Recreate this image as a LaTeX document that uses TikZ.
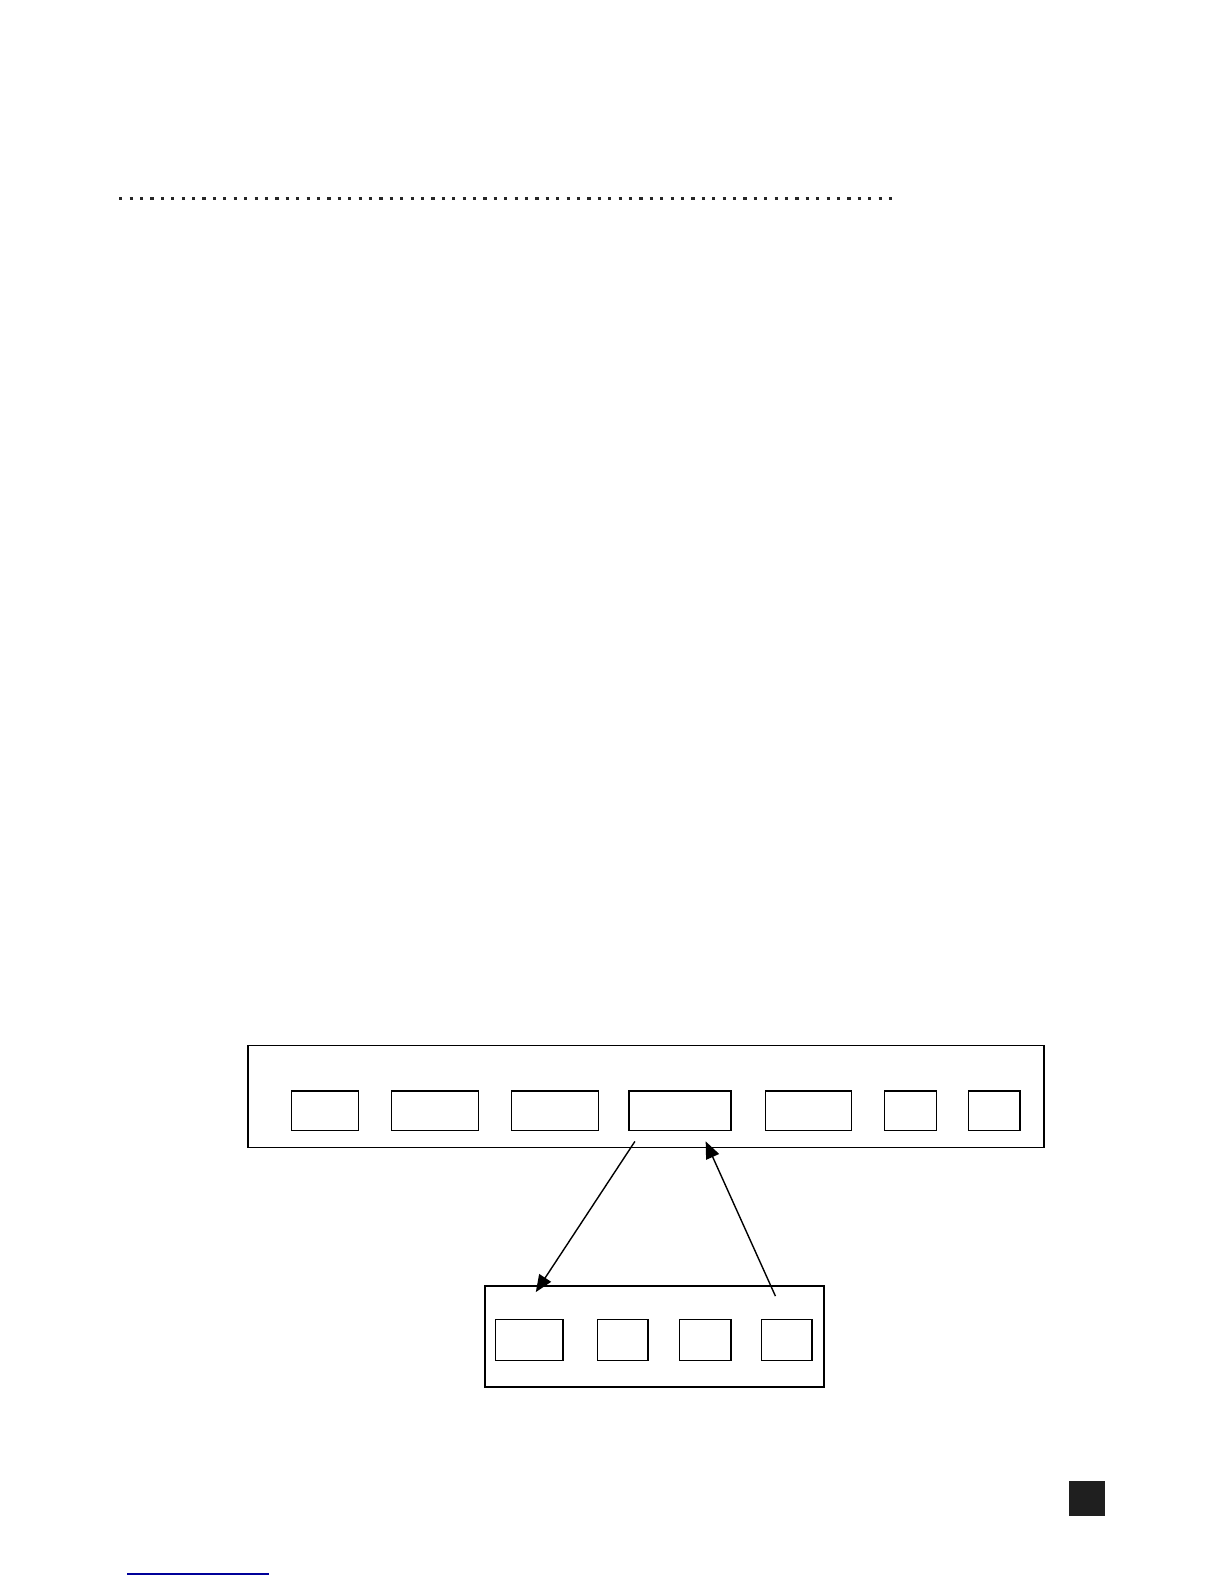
\documentclass[tikz,border=0pt]{standalone}
\usepackage{tikz}
\usetikzlibrary{arrows.meta}

\tikzset{
  frame/.style={draw=black, line width=0.9pt, inner sep=0pt, outer sep=0pt},
  cell/.style={draw=black, line width=0.65pt, inner sep=0pt, outer sep=0pt},
  link/.style={draw=black, line width=0.7pt, -{Triangle[length=8.5pt,width=7pt]}}
}

\begin{document}
\begin{tikzpicture}[x=0.5055pt,y=-0.5055pt]
\useasboundingbox (0pt,0pt) rectangle (612pt,-792pt);
% dotted rule at the top
\draw [black!85, line width=1.6pt, dash pattern=on 1.6pt off 3.6pt] (118,196) -- (882,196);
% upper frame with its seven cells
\node [frame, minimum width=398pt, minimum height=51pt] (upper) at (639,1084.5) {};
\node [cell, minimum width=33.8pt, minimum height=19.7pt] (u1) at (321.5,1098.5) {};
\node [cell, minimum width=43.5pt, minimum height=19.7pt] (u2) at (430,1098.5) {};
\node [cell, minimum width=43.5pt, minimum height=19.7pt] (u3) at (549,1098.5) {};
\node [cell, minimum width=51pt, minimum height=19.7pt] (u4) at (672.5,1098.5) {};
\node [cell, minimum width=43pt, minimum height=19.7pt] (u5) at (799.5,1098.5) {};
\node [cell, minimum width=25.8pt, minimum height=19.7pt] (u6) at (900.5,1098.5) {};
\node [cell, minimum width=25.8pt, minimum height=19.7pt] (u7) at (983.5,1098.5) {};
% lower frame with its four cells
\node [frame, minimum width=169.3pt, minimum height=50.5pt] (lower) at (647.5,1322) {};
\node [cell, minimum width=33.8pt, minimum height=20.7pt] (l1) at (523.5,1325.5) {};
\node [cell, minimum width=25.3pt, minimum height=20.7pt] (l2) at (616,1325.5) {};
\node [cell, minimum width=25.8pt, minimum height=20.7pt] (l3) at (697.5,1325.5) {};
\node [cell, minimum width=25.3pt, minimum height=20.7pt] (l4) at (778,1325.5) {};
% arrow ends
\coordinate (downfrom) at (628,1129);
\coordinate (downto) at (530,1278);
\coordinate (upfrom) at (767,1282);
\coordinate (upto) at (698,1129);
\draw [link] (downfrom) -- (downto);
\draw [link] (upfrom) -- (upto);
% page marks
\fill [black!88] (1057,1465) rectangle (1093,1500);
\draw [blue!60!black, line width=0.8pt] (126,1557) -- (266,1557);
\end{tikzpicture}
\end{document}
